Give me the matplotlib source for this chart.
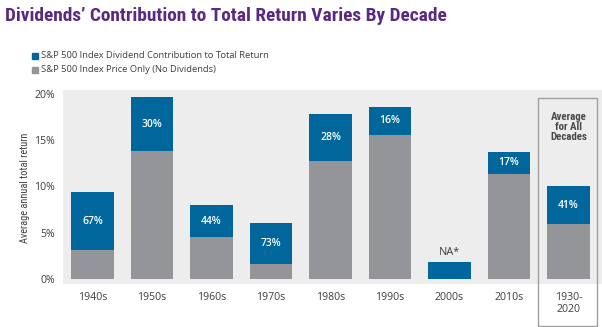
import os
import matplotlib
matplotlib.use("Agg")
import matplotlib.pyplot as plt
from matplotlib.patches import Rectangle
from matplotlib import font_manager as fm
from matplotlib.font_manager import FontProperties

categories = ["1940s", "1950s", "1960s", "1970s", "1980s", "1990s", "2000s", "2010s", "1930-\n2020"]
price_only = [3.1, 13.8, 4.5, 1.65, 12.8, 15.6, 0.0, 11.4, 5.9]
dividend = [6.3, 5.9, 3.5, 4.4, 5.0, 3.0, 1.8, 2.3, 4.1]
share_labels = ["67%", "30%", "44%", "73%", "28%", "16%", "NA*", "17%", "41%"]
yticks = [0, 5, 10, 15, 20]
ytick_labels = ["0%", "5%", "10%", "15%", "20%"]
legend_labels = ["S&P 500 Index Dividend Contribution to Total Return",
                 "S&P 500 Index Price Only (No Dividends)"]

BLUE = "#00669b"
GRAY = "#939598"
BG = "#ededed"
PURPLE = "#5a2a82"
TXT = "#3d3d3d"

FILES = [f.fname for f in fm.fontManager.ttflist]


def pick(preds):
    for pred in preds:
        for fn in FILES:
            b = os.path.basename(fn).lower()
            if pred(b):
                return fn
    return None


def plain(b):
    return 'italic' not in b and 'semi' not in b and 'extra' not in b and 'light' not in b and 'medium' not in b and 'thin' not in b and 'black' not in b


bold_cond = pick([
    lambda b: b.startswith('robotocondensed-bold.'),
    lambda b: b.startswith('liberationsansnarrow-bold.'),
    lambda b: b.startswith('opensans_condensed-bold.') or b.startswith('opensanscondensed-bold.'),
    lambda b: b.startswith('dejavusanscondensed-bold.'),
    lambda b: ('condensed' in b or 'narrow' in b) and 'bold' in b and plain(b),
])
reg_cond = pick([
    lambda b: b.startswith('robotocondensed-regular.'),
    lambda b: b.startswith('liberationsansnarrow-regular.'),
    lambda b: b.startswith('opensans_condensed-regular.') or b.startswith('opensanscondensed-regular.'),
    lambda b: b.startswith('dejavusanscondensed.'),
    lambda b: ('condensed' in b or 'narrow' in b) and 'bold' not in b and plain(b),
])
reg = pick([lambda b: b.startswith('opensans-regular.'), lambda b: b.startswith('notosans-regular.')])
semi = pick([lambda b: b.startswith('opensans-semibold.'), lambda b: b.startswith('opensans-bold.'),
             lambda b: b.startswith('notosans-semibold.')])


def fp(fname, size, fallback_family='DejaVu Sans', weight='normal'):
    if fname:
        return FontProperties(fname=fname, size=size)
    return FontProperties(family=fallback_family, size=size, weight=weight)


fig = plt.figure(figsize=(6.02, 3.27), dpi=100)
renderer = fig.canvas.get_renderer()


def fit(text, fname, target_px, base=10, weight='normal'):
    t = fig.text(0, 0, text, fontproperties=fp(fname, base, weight=weight))
    wpx = t.get_window_extent(renderer).width
    t.remove()
    return base * target_px / wpx


title_size = fit("Dividends\u2019 Contribution to Total Return Varies By Decade", bold_cond, 442, weight='bold')
legend_size = fit(legend_labels[0], reg, 230)
tick_size = fit("1940s", reg, 29)
ylabel_size = fit("Average annual total return", reg_cond, 109)
avg_size = fit("Average", bold_cond, 36, weight='bold')
bar_size = fit("67%", semi, 21, weight='bold')

ax = fig.add_axes([63/602, 1-283.7/327, 1-63/602, (283.7-90)/327])
ax.set_facecolor(BG)

x = list(range(len(categories)))
w = 0.72
ax.bar(x, price_only, width=w, color=GRAY)
ax.bar(x, dividend, width=w, bottom=price_only, color=BLUE)

for i in x:
    if share_labels[i] == "NA*":
        ax.text(i, price_only[i] + dividend[i] + 0.5, share_labels[i], ha='center', va='bottom',
                color=TXT, fontproperties=fp(reg, tick_size + 0.3))
    else:
        ax.text(i, price_only[i] + dividend[i] / 2, share_labels[i], ha='center', va='center',
                color='white', fontproperties=fp(semi, bar_size, weight='bold'))

ax.set_xlim(-0.496, 8.563)
ax.set_ylim(-0.51, 20.43)
ax.set_yticks(yticks)
ax.set_yticklabels(ytick_labels, color=TXT)
ax.set_xticks(x)
ax.set_xticklabels(categories, color=TXT, linespacing=1.15)
for lbl in ax.get_xticklabels() + ax.get_yticklabels():
    lbl.set_fontproperties(fp(reg, tick_size))
ax.tick_params(length=0)
ax.tick_params(axis='y', pad=6)
ax.tick_params(axis='x', pad=6)
for s in ax.spines.values():
    s.set_visible(False)

ax.set_ylabel("Average annual total return", color=TXT, fontproperties=fp(reg_cond, ylabel_size))
ax.yaxis.set_label_coords(25/602, 1-188/327, transform=fig.transFigure)
ax.yaxis.label.set_va('center')

rect = Rectangle((7.48, -5.05), 1.004, 24.59, fill=False, edgecolor="#a0a0a0", lw=1.0,
                 clip_on=False, transform=ax.transData)
ax.add_patch(rect)
ax.text(8.0, 16.4, "Average\nfor All\nDecades", ha='center', va='center',
        color="#4a4a4a", linespacing=1.0, fontproperties=fp(bold_cond, avg_size, weight='bold'))

fig.text(5/602, 1-21/327, "Dividends\u2019 Contribution to Total Return Varies By Decade",
         color=PURPLE, va='baseline', fontproperties=fp(bold_cond, title_size, weight='bold'))

# legend
for yc, col, lab in zip([56, 70], [BLUE, GRAY], legend_labels):
    fig.patches.append(Rectangle((32/602, 1-(yc+3)/327), 6/602, 6/327, color=col,
                                 transform=fig.transFigure, figure=fig))
    fig.text(41/602, 1-yc/327, lab, va='center', ha='left', color=TXT,
             fontproperties=fp(reg, legend_size))

fig.savefig("out.png", dpi=100)
